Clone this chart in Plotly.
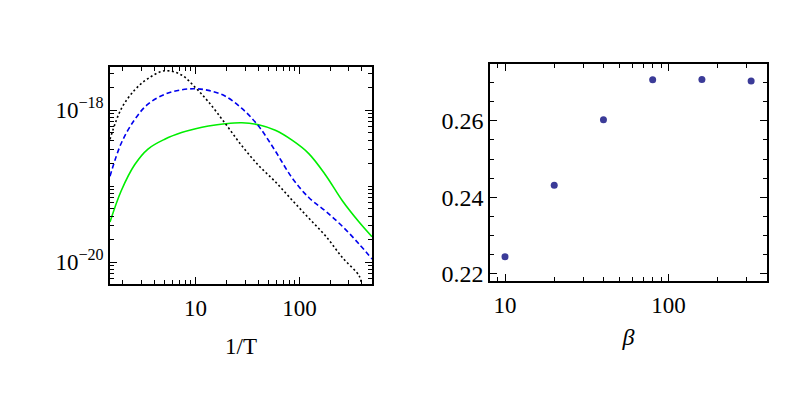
"""
Two-panel log plot: rate curves vs 1/T (left) and fitted value vs beta (right)
"""

import numpy as np
import plotly.graph_objects as go

# left panel (y given as log10 of the value)
inv_t = [1.5, 1.92, 2.59, 3.48, 5.05, 7.33, 10, 13.3, 19.2, 27.9, 40.4, 58.6,
         84.9, 123, 179, 259, 375, 500]

inv_t_black = inv_t[:-1] + [395]
log_black = [-18.384, -17.987, -17.737, -17.586, -17.483, -17.539, -17.707, -17.892,
             -18.172, -18.47, -18.728, -18.944, -19.185, -19.422, -19.659, -19.94,
             -20.18, -20.28]

log_blue = [-18.871, -18.44, -18.125, -17.922, -17.793, -17.733, -17.72, -17.741,
            -17.815, -17.978, -18.211, -18.539, -18.892, -19.151, -19.332, -19.53,
            -19.763, -19.961]

log_green = [-19.474, -19.065, -18.72, -18.513, -18.384, -18.297, -18.246, -18.211,
             -18.181, -18.168, -18.194, -18.267, -18.397, -18.573, -18.858, -19.194,
             -19.474, -19.668]

# right panel
beta = [10, 20, 40, 80, 160, 320]
beta_vals = [0.2244, 0.2431, 0.2603, 0.2708, 0.2709, 0.2705]

left_yticks = [1e-20, 1e-18]
left_yticktext = ["10<sup>\u221220</sup>", "10<sup>\u221218</sup>"]

FONT = "Liberation Serif"

fig = go.Figure()

fig.add_trace(go.Scatter(x=inv_t, y=np.power(10.0, log_green), mode="lines",
                         line=dict(color="#00ee00", width=1.6, shape="spline", smoothing=1),
                         xaxis="x", yaxis="y"))
fig.add_trace(go.Scatter(x=inv_t, y=np.power(10.0, log_blue), mode="lines",
                         line=dict(color="#0000ee", width=1.6, dash="5px,3px",
                                   shape="spline", smoothing=1),
                         xaxis="x", yaxis="y"))
fig.add_trace(go.Scatter(x=inv_t_black, y=np.power(10.0, log_black), mode="lines",
                         line=dict(color="black", width=1.6, dash="2px,2.5px",
                                   shape="spline", smoothing=1),
                         xaxis="x", yaxis="y"))

fig.add_trace(go.Scatter(x=beta, y=beta_vals, mode="markers",
                         marker=dict(color="#3b3b98", size=7),
                         xaxis="x2", yaxis="y2"))

frame = dict(showline=True, linecolor="black", linewidth=1.5, mirror="allticks",
             ticks="inside", ticklen=7, tickwidth=1, tickcolor="black",
             showgrid=False, zeroline=False,
             tickfont=dict(family=FONT, size=23, color="black"))

# page body has an 8px margin, so the figure is 8px smaller than the window
fig.update_layout(
    width=781, height=386,
    margin=dict(l=0, r=0, t=0, b=0),
    paper_bgcolor="white", plot_bgcolor="white",
    showlegend=False,
    font=dict(family=FONT, color="black"),
    xaxis=dict(frame, type="log", domain=[0.1306, 0.4661], anchor="y",
               range=[np.log10(1.5), np.log10(500)],
               tickvals=[10, 100], ticktext=["10", "100"], ticklabelstandoff=3,
               minor=dict(ticks="inside", ticklen=4, tickcolor="black",
                          tickvals=[2, 3, 4, 5, 6, 7, 8, 9, 20, 30, 40, 50, 60, 70, 80, 90,
                                    200, 300, 400], showgrid=False),
               title=dict(text="1/T", font=dict(family=FONT, size=23), standoff=18)),
    yaxis=dict(frame, type="log", domain=[0.2746, 0.8446], anchor="x",
               range=[-20.285, -17.434],
               tickvals=left_yticks, ticktext=left_yticktext,
               minor=dict(ticks="inside", ticklen=4, tickcolor="black",
                          tickvals=[k * 10.0 ** e for e in (-21, -20, -19, -18)
                                    for k in range(2, 10)] + [1e-19],
                          showgrid=False)),
    xaxis2=dict(frame, type="log", domain=[0.6172, 0.9718], anchor="y2",
                range=[np.log10(8.1), np.log10(400)],
                tickvals=[10, 100], ticktext=["10", "100"], ticklabelstandoff=3,
                minor=dict(ticks="inside", ticklen=4, tickcolor="black",
                           tickvals=[9, 20, 30, 40, 50, 60, 70, 80, 90, 200, 300, 400],
                           showgrid=False),
                title=dict(text="<i>\u03b2</i>", font=dict(family=FONT, size=24), standoff=11)),
    yaxis2=dict(frame, domain=[0.2824, 0.8523], anchor="x2",
                range=[0.2181, 0.2749],
                tickvals=[0.22, 0.24, 0.26], ticktext=["0.22", "0.24", "0.26"],
                tickfont=dict(family=FONT, size=24, color="black"),
                minor=dict(ticks="inside", ticklen=4, tickcolor="black",
                           dtick=0.005, tick0=0.2, showgrid=False)),
)

fig.write_html("out.html")
